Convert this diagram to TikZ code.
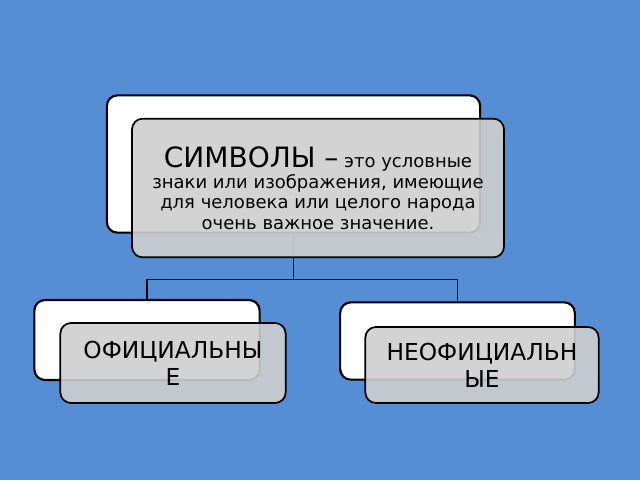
\documentclass[tikz,border=0pt]{standalone}
\usepackage{fontspec}
\setmainfont{DejaVu Sans}
\usetikzlibrary{positioning}
\definecolor{slideblue}{HTML}{558ED5}
\definecolor{cardgray}{RGB}{207,207,207}

\begin{document}
\begin{tikzpicture}[x=0.75pt,y=-0.75pt,
  backbox/.style={rectangle,rounded corners=8pt,draw=black,line width=1.6pt,
                  fill=white,inner sep=0pt},
  frontbox/.style={rectangle,rounded corners=8pt,draw=black,line width=1.3pt,
                   fill=cardgray,fill opacity=0.9,text opacity=1,
                   inner sep=0pt,align=center},
  link/.style={draw=black,line width=0.9pt}
]
\fill[slideblue] (0,0) rectangle (640,480);
\useasboundingbox (0,0) rectangle (640,480);

% Back cards
\node[backbox,minimum width=280pt,minimum height=103pt] (topb)   at (293.5,164) {};
\node[backbox,minimum width=169pt,minimum height=60pt]  (leftb)  at (147,340)   {};
\node[backbox,minimum width=176pt,minimum height=58pt]  (rightb) at (457.5,341) {};

% Tree lines
\draw[link] (topb.south) -- ++(0,46) coordinate (fork) -| (leftb.north);
\draw[link] (fork) -| (rightb.north);

% Front cards
\node[frontbox,minimum width=279pt,minimum height=104pt,
      font=\fontsize{13.5}{15.4}\selectfont] (topf) at (318,188)
  {\rule{0pt}{14pt}{\fontsize{21}{15.4}\selectfont СИМВОЛЫ –} это условные\\
   знаки или изображения, имеющие\\
   для человека или целого народа\\
   очень важное значение.};
\node[frontbox,minimum width=169pt,minimum height=60pt,
      font=\fontsize{17.5}{20}\selectfont] (leftf) at (173,363)
  {ОФИЦИАЛЬНЫ\\Е};
\node[frontbox,minimum width=175pt,minimum height=57pt,
      font=\fontsize{17.5}{20}\selectfont] (rightf) at (482,365)
  {НЕОФИЦИАЛЬН\\ЫЕ};

\end{tikzpicture}
\end{document}
